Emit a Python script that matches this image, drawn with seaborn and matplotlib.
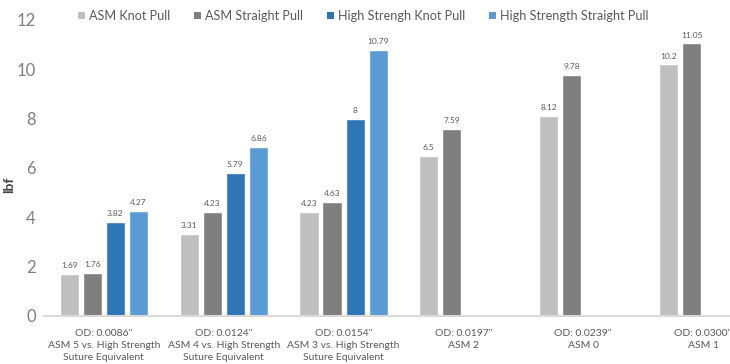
import numpy as np
import pandas as pd
import matplotlib
matplotlib.use("Agg")
import matplotlib.pyplot as plt
from matplotlib.patches import Patch
import seaborn as sns

# Suture sizes (x categories)
categories = [
    'OD: 0.0086"\nASM 5 vs. High Strength\nSuture Equivalent',
    'OD: 0.0124"\nASM 4 vs. High Strength\nSuture Equivalent',
    'OD: 0.0154"\nASM 3 vs. High Strength\nSuture Equivalent',
    'OD: 0.0197"\nASM 2',
    'OD: 0.0239"\nASM 0',
    'OD: 0.0300"\nASM 1',
]
series_names = ["ASM Knot Pull", "ASM Straight Pull",
                "High Strengh Knot Pull", "High Strength Straight Pull"]

# Pull strength (lbf)
asm_knot = [1.69, 3.31, 4.23, 6.5, 8.12, 10.2]
asm_straight = [1.76, 4.23, 4.63, 7.59, 9.78, 11.05]
hs_knot = [3.82, 5.79, 8, np.nan, np.nan, np.nan]
hs_straight = [4.27, 6.86, 10.79, np.nan, np.nan, np.nan]

colors = ["#BFBFBF", "#7F7F7F", "#2E75B6", "#5B9BD5"]

rows = []
for name, vals in zip(series_names, [asm_knot, asm_straight, hs_knot, hs_straight]):
    for cat, v in zip(categories, vals):
        rows.append({"category": cat, "series": name, "lbf": v})
df = pd.DataFrame(rows).dropna()

sns.set_style("white")
plt.rcParams["font.family"] = ["Lato", "DejaVu Sans"]

fig = plt.figure(figsize=(7.30, 3.64), dpi=100)
ax = fig.add_axes([44 / 730, 48 / 364, 719 / 730, 296 / 364])

sns.barplot(data=df, x="category", y="lbf", hue="series",
            order=categories, hue_order=series_names,
            palette=colors, width=0.77, gap=0.17,
            saturation=1, legend=False, ax=ax)

for cont in ax.containers:
    ax.bar_label(cont, fmt="{:g}", padding=3.5, fontsize=6, color="#595959")

ax.set_xlim(-0.5, 5.5)
ax.set_ylim(0, 12)
ax.set_yticks(range(0, 13, 2))
ax.tick_params(axis="y", labelsize=12, labelcolor="#7F7F7F", length=0, pad=6)
ax.tick_params(axis="x", labelsize=7.5, labelcolor="#595959", length=0, pad=9)
for lab in ax.get_xticklabels():
    lab.set_linespacing(1.5)

ax.set_xlabel("")
ax.set_ylabel("lbf", fontsize=10, fontweight="bold", color="#404040")
ax.yaxis.set_label_coords((15 - 44) / 719, (364 - 185 - 48) / 296)

for s in ["top", "right", "left"]:
    ax.spines[s].set_visible(False)
ax.spines["bottom"].set_color("#D9D9D9")
ax.spines["bottom"].set_linewidth(1.5)
ax.grid(False)

handles = [Patch(facecolor=c, edgecolor="none") for c in colors]
fig.legend(handles, series_names, loc="center", ncol=4,
           bbox_to_anchor=(363 / 730, 1 - 16 / 364), frameon=False,
           fontsize=9.1, labelcolor="#595959", handlelength=0.55,
           handleheight=0.55, handletextpad=0.3, columnspacing=1.9)

fig.savefig("out.png", dpi=100)
